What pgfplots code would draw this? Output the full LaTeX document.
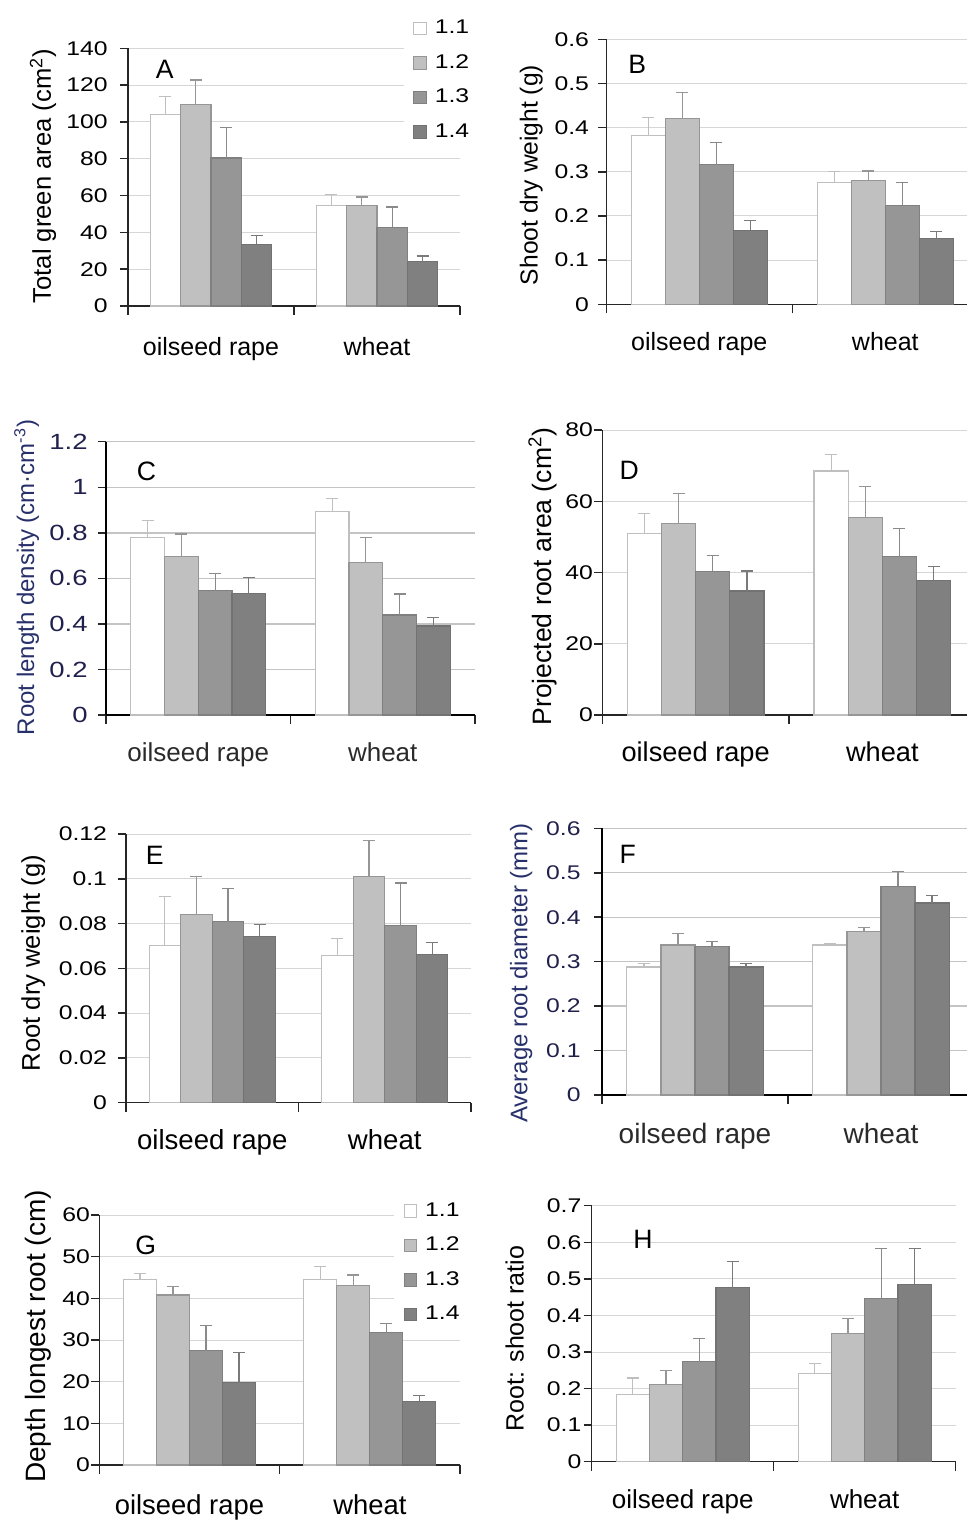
\documentclass[border=0pt]{standalone}
\usepackage{fontspec}
\setmainfont{Liberation Sans}
\newfontfamily\tickfont[FakeStretch=1.25]{Liberation Sans}
\usepackage{pgfplots}
\usepackage{pgfplotstable}
\pgfplotsset{compat=1.18}

\definecolor{axc}{HTML}{262626}
\definecolor{gridc}{HTML}{D6D6D6}
\definecolor{gridcc}{HTML}{C4C4C4}
\definecolor{e1}{HTML}{BFBFBF}
\definecolor{f2}{HTML}{C0C0C0}
\definecolor{e2}{HTML}{969696}
\definecolor{f3}{HTML}{969696}
\definecolor{e3}{HTML}{808080}
\definecolor{f4}{HTML}{808080}
\definecolor{e4}{HTML}{727272}
\definecolor{r1}{HTML}{BFBFBF}
\definecolor{r2}{HTML}{969696}
\definecolor{r3}{HTML}{8A8A8A}
\definecolor{r4}{HTML}{7A7A7A}
\definecolor{navy}{HTML}{27306A}
\definecolor{navyt}{HTML}{20204C}
\definecolor{dk}{HTML}{2A2A2A}

\newcommand{\fsz}[1]{\fontsize{#1}{#1}\selectfont}

\pgfplotstableread{
x a ae b be c ce d de
1 103.8 10.2 109.6 13.2 80.4 16.5 33.5 4.7
2 54.5 6.2 54.5 4.7 42.7 11.1 24.1 3.1
}\tA
\pgfplotstableread{
x a ae b be c ce d de
1 0.382 0.041 0.420 0.060 0.316 0.050 0.168 0.021
2 0.275 0.025 0.281 0.021 0.224 0.051 0.149 0.016
}\tB
\pgfplotstableread{
x a ae b be c ce d de
1 0.779 0.074 0.697 0.098 0.546 0.075 0.533 0.071
2 0.894 0.057 0.669 0.110 0.439 0.092 0.391 0.038
}\tC
\pgfplotstableread{
x a ae b be c ce d de
1 51.0 5.5 53.8 8.3 40.4 4.3 34.8 5.6
2 68.5 4.7 55.4 8.7 44.4 7.9 37.7 3.9
}\tD
\pgfplotstableread{
x a ae b be c ce d de
1 0.0704 0.0216 0.0840 0.0169 0.0808 0.0148 0.0743 0.0054
2 0.0657 0.0078 0.1011 0.0159 0.0791 0.0190 0.0663 0.0053
}\tE
\pgfplotstableread{
x a ae b be c ce d de
1 0.288 0.008 0.3375 0.0265 0.3345 0.0115 0.288 0.008
2 0.3375 0.0035 0.3675 0.009 0.4695 0.033 0.432 0.016
}\tF
\pgfplotstableread{
x a ae b be c ce d de
1 44.6 1.4 40.8 2.0 27.4 6.1 19.8 7.2
2 44.6 3.0 43.0 2.6 31.8 2.1 15.3 1.3
}\tG
\pgfplotstableread{
x a ae b be c ce d de
1 0.184 0.045 0.211 0.038 0.273 0.063 0.477 0.070
2 0.2415 0.0275 0.351 0.040 0.447 0.135 0.485 0.097
}\tH

\pgfplotsset{
  panel/.style={
    scale only axis, anchor=south west,
    xmin=0.5, xmax=2.5, ymin=0,
    axis x line*=bottom, axis y line*=left,
    axis line style={axc, line width=0.75pt},
    xtick={1,2}, xticklabels={oilseed rape,wheat},
    minor xtick={0.5,1.5,2.5},
    tick align=outside, major tick length=4pt, minor tick length=4.5pt,
    tick style={axc, line width=0.75pt},
    major x tick style={draw=none},
    ymajorgrids, grid style={gridc, line width=0.5pt},
    scaled y ticks=false,
    /pgf/number format/fixed,
    /pgf/number format/precision=3,
    /pgf/number format/assume math mode=true,
    yticklabel style={anchor=east, inner sep=0pt, font={\tickfont\fsz{9.9}}},
    xticklabel style={anchor=base, inner sep=0pt},
    ylabel style={anchor=center},
    ybar=0pt, bar width=0.183,
    legend image code/.code={\draw[#1, line width=0.5pt] (0pt,-3.15pt) rectangle (6.3pt,3.15pt);},
    legend cell align=left,
  },
  leg/.style={
    legend style={draw=none, fill=white, inner xsep=4.6pt, inner ysep=4pt,
      row sep=8.85pt, column sep=4pt, font={\tickfont\fsz{9.9}},
      nodes={inner sep=0pt}, anchor=north west},
    legend entries={1.1,1.2,1.3,1.4},
  },
  s1/.style={draw=e1, fill=white, line width=0.55pt,
    error bars/.cd, y dir=plus, y explicit,
    error bar style={color=r1, line width=0.6pt},
    error mark options={rotate=90, color=r1, mark size=3pt, line width=0.6pt}},
  s2/.style={draw=e2, fill=f2, line width=0.55pt,
    error bars/.cd, y dir=plus, y explicit,
    error bar style={color=r2, line width=0.6pt},
    error mark options={rotate=90, color=r2, mark size=3pt, line width=0.6pt}},
  s3/.style={draw=e3, fill=f3, line width=0.55pt,
    error bars/.cd, y dir=plus, y explicit,
    error bar style={color=r3, line width=0.6pt},
    error mark options={rotate=90, color=r3, mark size=3pt, line width=0.6pt}},
  s4/.style={draw=e4, fill=f4, line width=0.55pt,
    error bars/.cd, y dir=plus, y explicit,
    error bar style={color=r4, line width=0.6pt},
    error mark options={rotate=90, color=r4, mark size=3pt, line width=0.6pt}},
}

\newcommand{\fourbars}[1]{%
  \addplot[s1] table[x=x,y=a,y error=ae]{#1};
  \addplot[s2] table[x=x,y=b,y error=be]{#1};
  \addplot[s3] table[x=x,y=c,y error=ce]{#1};
  \addplot[s4] table[x=x,y=d,y error=de]{#1};
}

\begin{document}
\begin{tikzpicture}
\path[use as bounding box] (0pt,0pt) rectangle (483pt,-760pt);

% ---------- A ----------
\begin{axis}[panel, leg, at={(64pt,-153pt)}, width=166pt, height=128.85pt,
  ymax=140, ytick={0,20,40,60,80,100,120,140},
  yticklabel style={xshift=-6pt},
  xticklabel style={yshift=-20.5pt, font=\fsz{12.5}},
  ylabel={Total green area (cm\textsuperscript{2})},
  ylabel style={at={(axis description cs:-0.256,0.504)}, font=\fsz{12.8}},
  legend style={at={(axis description cs:0.830,1.142)}}]
\fourbars{\tA}
\node[font=\fsz{13.3}] at (rel axis cs:0.111,0.919) {A};
\end{axis}

% ---------- B ----------
\begin{axis}[panel, at={(303.15pt,-152.15pt)}, width=186pt, height=132.5pt,
  ymax=0.6, ytick={0,0.1,0.2,0.3,0.4,0.5,0.6},
  yticklabel style={xshift=-4.5pt},
  xticklabel style={yshift=-18.85pt, font=\fsz{12.5}},
  ylabel={Shoot dry weight (g)},
  ylabel style={at={(axis description cs:-0.202,0.488)}, font=\fsz{12.3}}]
\fourbars{\tB}
\node[font=\fsz{13.3}] at (rel axis cs:0.083,0.905) {B};
\end{axis}

% ---------- C ----------
\begin{axis}[panel, at={(53pt,-357.5pt)}, width=184.5pt, height=136.65pt,
  ymax=1.2, ytick={0,0.2,0.4,0.6,0.8,1,1.2},
  grid style={gridcc, line width=0.7pt},
  axis line style={black, line width=0.9pt},
  yticklabel style={xshift=-5pt, color=navyt, font={\tickfont\fsz{11}}},
  xticklabel style={yshift=-19.3pt, font=\fsz{13}, color=dk},
  ylabel={Root length density (cm·cm\textsuperscript{-3})},
  ylabel style={at={(axis description cs:-0.215,0.503)}, font=\fsz{12}, color=navy}]
\fourbars{\tC}
\node[font=\fsz{13.3}] at (rel axis cs:0.110,0.892) {C};
\end{axis}

% ---------- D ----------
\begin{axis}[panel, at={(301.15pt,-357.5pt)}, width=186.7pt, height=142.5pt,
  ymax=80, ytick={0,20,40,60,80},
  yticklabel style={xshift=-0.5pt},
  xticklabel style={yshift=-19.3pt, font=\fsz{13.6}},
  ylabel={Projected root area (cm\textsuperscript{2})},
  ylabel style={at={(axis description cs:-0.159,0.486)}, font=\fsz{13.3}}]
\fourbars{\tD}
\node[font=\fsz{13.3}] at (rel axis cs:0.072,0.860) {D};
\end{axis}

% ---------- E ----------
\begin{axis}[panel, at={(63pt,-551.35pt)}, width=172.5pt, height=134.35pt,
  ymax=0.12, ytick={0,0.02,0.04,0.06,0.08,0.1,0.12},
  yticklabel style={xshift=-5.3pt},
  xticklabel style={yshift=-19.3pt, font=\fsz{13.8}},
  ylabel={Root dry weight (g)},
  ylabel style={at={(axis description cs:-0.269,0.519)}, font=\fsz{12.8}}]
\fourbars{\tE}
\node[font=\fsz{13.3}] at (rel axis cs:0.083,0.919) {E};
\end{axis}

% ---------- F ----------
\begin{axis}[panel, at={(301pt,-547.5pt)}, width=186pt, height=133.35pt,
  ymax=0.6, ytick={0,0.1,0.2,0.3,0.4,0.5,0.6},
  grid style={gridcc, line width=0.7pt},
  axis line style={black, line width=0.9pt},
  yticklabel style={xshift=-6.5pt, color=navyt},
  xticklabel style={yshift=-20.15pt, font=\fsz{14}, color=dk},
  ylabel={Average root diameter (mm)},
  ylabel style={at={(axis description cs:-0.217,0.457)}, font=\fsz{12}, color=navy}]
\fourbars{\tF}
\node[font=\fsz{13.3}] at (rel axis cs:0.069,0.903) {F};
\end{axis}

% ---------- G ----------
\begin{axis}[panel, leg, at={(49.65pt,-732.5pt)}, width=180.35pt, height=125pt,
  ymax=60, ytick={0,10,20,30,40,50,60},
  yticklabel style={xshift=-0.5pt},
  xticklabel style={yshift=-20.5pt, font=\fsz{13.7}},
  ylabel={Depth longest root (cm)},
  ylabel style={at={(axis description cs:-0.169,0.514)}, font=\fsz{14}},
  legend style={at={(axis description cs:0.817,1.083)}}]
\fourbars{\tG}
\node[font=\fsz{13.3}] at (rel axis cs:0.129,0.879) {G};
\end{axis}

% ---------- H ----------
\begin{axis}[panel, at={(295.85pt,-730.85pt)}, width=182pt, height=128pt,
  ymax=0.7, ytick={0,0.1,0.2,0.3,0.4,0.5,0.6,0.7},
  yticklabel style={xshift=-1pt},
  xticklabel style={yshift=-19.3pt, font=\fsz{13}},
  ylabel={Root: shoot ratio},
  ylabel style={at={(axis description cs:-0.2115,0.481)}, font=\fsz{12.5}}]
\fourbars{\tH}
\node[font=\fsz{13.3}] at (rel axis cs:0.141,0.869) {H};
\end{axis}
\end{tikzpicture}
\end{document}
